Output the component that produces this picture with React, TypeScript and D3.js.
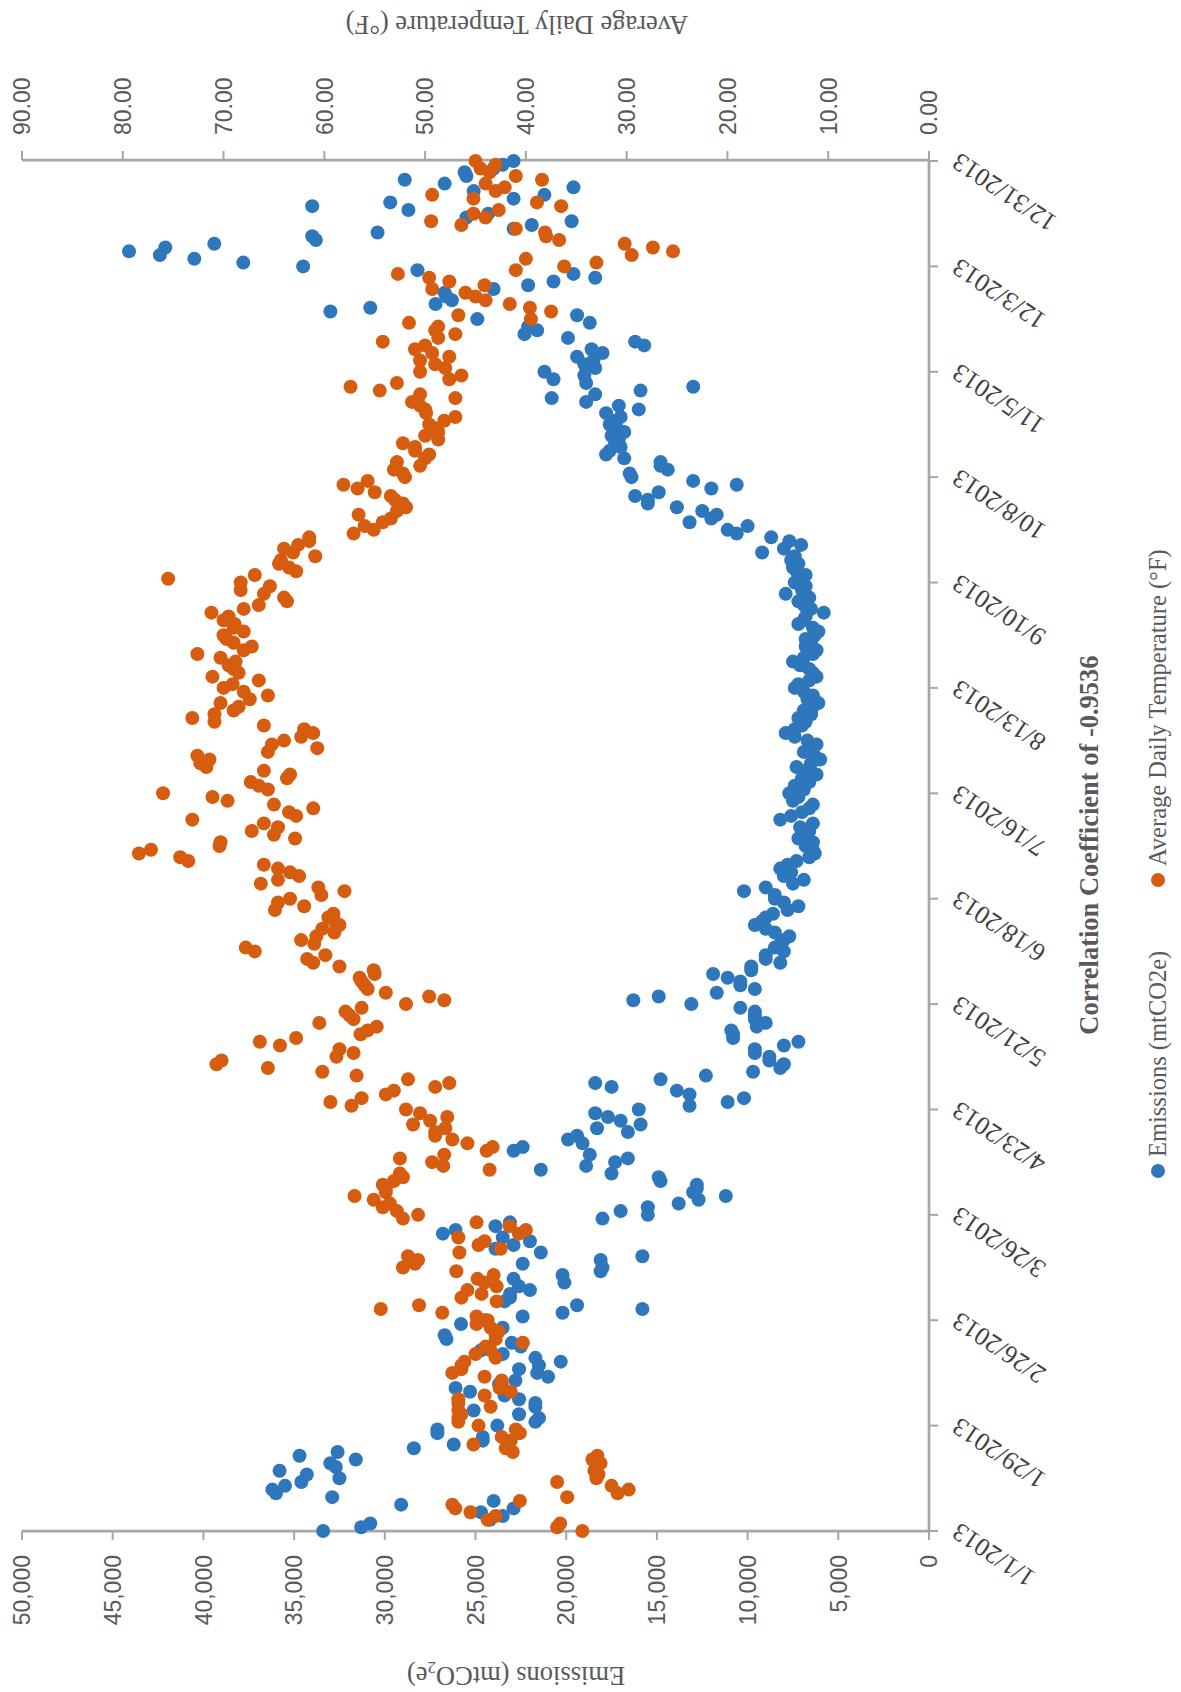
import React from "react";
import * as d3 from "d3";

// ---------- DATA (daily values, 2013) ----------
// Emissions, thousands of mtCO2e, one value per day, by month
const emJan = [33.4, 31.3, 30.8, 24.2, 23.5, 24.7, 22.9, 29.1, 24.0, 32.9, 36.0, 36.2, 35.5, 34.6, 32.5, 34.3, 35.8, 32.7, 33.0, 31.6, 34.7, 32.6, 28.4, 26.2, 24.6, 24.6, 27.1, 27.1, 23.8, 21.7, 21.5];
const emFeb = [22.6, 25.1, 21.7, 21.7, 22.6, 23.4, 25.3, 26.1, 23.7, 22.8, 21.0, 21.6, 22.6, 21.5, 20.3, 21.7, 23.5, 24.7, 22.5, 23.0, 26.6, 26.7, 23.9, 23.5, 25.8, 24.5, 22.4, 20.2];
const emMar = [15.8, 19.4, 23.4, 23.1, 23.1, 22.0, 22.6, 20.1, 22.9, 20.2, 18.1, 18.0, 22.4, 18.1, 15.8, 21.4, 23.9, 22.9, 22.0, 23.5, 26.8, 26.1, 23.9, 23.1, 18.0, 15.5, 17.0, 15.5, 13.8, 12.7, 11.2];
const emApr = [13.0, 12.8, 12.8, 14.8, 14.9, 17.5, 21.4, 18.9, 17.3, 16.6, 18.7, 22.9, 22.4, 19.1, 19.9, 19.4, 16.6, 18.3, 15.9, 17.0, 17.7, 18.4, 16.0, 13.2, 11.1, 10.2, 13.2, 13.9, 17.5, 18.4];
const emMay = [14.8, 12.3, 9.7, 8.2, 8.0, 8.8, 8.8, 9.6, 9.6, 8.0, 7.2, 10.8, 10.8, 10.9, 9.5, 9.0, 9.6, 9.6, 9.6, 10.4, 13.1, 16.3, 14.9, 11.7, 9.6, 10.4, 10.4, 11.1, 11.9, 9.8, 9.8];
const emJun = [8.2, 9.0, 9.0, 8.0, 8.5, 8.2, 8.0, 7.7, 8.5, 9.0, 9.6, 9.2, 9.0, 8.6, 7.8, 7.2, 8.0, 8.5, 8.5, 10.2, 9.0, 7.5, 6.9, 8.0, 7.6, 8.2, 7.8, 7.3, 6.6, 6.3];
const emJul = [6.4, 6.8, 6.4, 7.2, 7.0, 6.6, 7.1, 6.4, 8.2, 7.6, 7.0, 6.6, 6.4, 7.5, 7.2, 7.7, 6.9, 7.4, 6.6, 7.0, 6.2, 6.8, 7.3, 6.5, 6.0, 6.3, 6.9, 6.6, 6.2, 6.7, 7.4];
const emAug = [7.9, 7.4, 7.0, 6.8, 7.2, 6.5, 6.9, 6.4, 6.1, 6.7, 6.4, 6.9, 7.4, 7.2, 6.6, 6.2, 6.4, 6.6, 7.1, 7.5, 6.9, 6.4, 6.2, 6.8, 6.5, 6.8, 6.3, 6.1, 6.4, 7.2, 6.9];
const emSep = [6.8, 5.8, 6.5, 6.9, 7.2, 6.6, 7.9, 7.0, 6.8, 7.4, 7.0, 6.8, 7.3, 7.5, 7.2, 7.6, 7.4, 9.2, 8.0, 7.05, 7.7, 8.7, 10.6, 11.1, 10.0, 13.2, 12.0, 11.7, 12.5, 13.9];
const emOct = [15.5, 15.5, 16.2, 14.9, 12.0, 10.6, 13.0, 16.4, 16.5, 14.4, 14.8, 14.8, 16.8, 17.8, 17.6, 17.0, 17.3, 17.1, 17.5, 16.8, 17.2, 17.6, 17.5, 17.0, 17.8, 16.0, 17.1, 18.9, 20.8, 18.4, 15.9];
const emNov = [13.0, 18.9, 20.7, 19.0, 21.2, 18.4, 19.0, 18.5, 19.4, 18.0, 18.6, 15.7, 16.2, 19.9, 22.3, 21.6, 22.1, 18.7, 24.9, 19.4, 33.0, 30.8, 27.2, 26.3, 26.6, 26.7, 24.0, 22.1, 20.7, 18.4];
const emDec = [19.6, 28.2, 34.5, 37.8, 40.5, 42.4, 44.1, 42.1, 39.4, 33.8, 34.0, 30.4, 22.9, 21.9, 19.7, 25.5, 24.3, 28.7, 34.0, 29.7, 22.9, 21.2, 25.1, 19.6, 26.7, 28.9, 25.5, 25.6, 24.0, 23.5, 22.9];

// Average daily temperature (°F), one value per day, by month
const tpJan = [34.4, 36.9, 36.6, 43.8, 43.0, 45.5, 47.0, 47.3, 40.6, 35.9, 30.9, 29.8, 31.5, 36.9, 33.0, 32.8, 33.2, 33.0, 32.6, 33.4, 32.9, 41.3, 42.0, 45.2, 41.5, 42.4, 40.6, 41.0, 44.7, 46.7, 46.7];
const tpFeb = [46.4, 46.7, 43.5, 46.7, 46.7, 44.1, 41.5, 42.6, 42.4, 42.4, 44.1, 47.3, 46.4, 46.4, 46.1, 43.0, 45.0, 43.5, 44.0, 40.3, 43.0, 43.0, 42.7, 43.5, 44.9, 43.8, 44.9, 48.3];
const tpMar = [54.4, 50.6, 42.9, 46.4, 44.4, 45.8, 42.9, 44.1, 44.8, 43.2, 46.9, 52.2, 51.0, 50.7, 51.7, 46.6, 42.5, 44.7, 44.1, 46.7, 40.7, 40.0, 41.6, 44.9, 52.2, 50.7, 52.8, 54.2, 53.5, 55.1, 57.0];
const tpApr = [53.9, 53.9, 54.2, 53.1, 52.2, 52.5, 43.6, 48.2, 49.3, 52.5, 48.1, 43.9, 43.3, 45.8, 47.3, 49.0, 49.0, 48.0, 51.2, 49.5, 47.8, 50.5, 51.9, 57.3, 59.4, 56.3, 53.9, 53.1, 49.0, 47.6];
const tpMay = [51.7, 56.8, 60.2, 65.6, 70.7, 70.2, 58.8, 57.1, 58.5, 64.4, 66.4, 62.8, 56.4, 55.7, 54.8, 60.5, 57.1, 57.5, 57.9, 56.3, 51.9, 48.1, 49.6, 53.9, 55.7, 56.0, 56.3, 56.5, 55.0, 55.1, 58.5];
const tpJun = [61.1, 61.7, 59.9, 66.9, 67.8, 61.0, 62.3, 60.8, 59.0, 60.2, 58.5, 59.0, 59.6, 59.1, 64.9, 62.0, 64.6, 63.4, 60.3, 58.0, 60.6, 66.3, 64.6, 62.5, 63.4, 64.6, 66.0, 73.5, 74.3, 78.4];
const tpJul = [77.2, 70.4, 70.3, 62.9, 65.0, 67.2, 64.6, 66.0, 73.1, 62.8, 63.5, 61.1, 65.0, 69.6, 71.1, 76.0, 65.6, 66.5, 67.3, 63.7, 63.4, 66.0, 71.7, 72.3, 71.4, 72.6, 65.6, 60.7, 65.2, 64.0, 62.3];
const tpAug = [61.1, 62.0, 66.0, 70.9, 73.1, 70.9, 69.0, 68.5, 70.3, 67.4, 65.6, 68.0, 70.0, 69.1, 66.5, 71.1, 68.5, 69.0, 69.5, 68.8, 70.3, 72.6, 68.0, 67.2, 69.0, 69.7, 70.0, 68.0, 69.0, 68.9, 70.0];
const tpSep = [69.5, 71.2, 68.0, 66.5, 63.7, 64.0, 66.0, 68.3, 65.4, 68.3, 75.5, 66.9, 62.8, 63.5, 64.5, 64.3, 60.9, 63.1, 64.0, 62.6, 61.5, 61.5, 57.1, 55.1, 56.0, 54.2, 53.4, 56.6, 52.8, 51.9];
const tpOct = [52.2, 53.0, 53.4, 55.0, 56.7, 58.1, 55.7, 52.0, 52.2, 53.1, 50.5, 52.8, 50.0, 49.6, 51.0, 51.0, 52.2, 48.7, 50.0, 48.7, 49.0, 49.6, 48.1, 47.0, 49.9, 50.0, 50.5, 51.3, 47.0, 50.5, 54.5];
const tpNov = [57.4, 52.8, 47.6, 46.4, 50.5, 48.0, 49.0, 50.5, 47.6, 49.3, 51.0, 50.0, 54.2, 48.7, 47.0, 49.0, 48.7, 51.6, 39.5, 46.7, 37.5, 39.6, 41.6, 44.0, 45.0, 46.0, 49.3, 44.1, 47.6, 49.6];
const tpDec = [52.7, 41.0, 36.2, 33.0, 40.0, 29.5, 25.4, 27.4, 30.2, 36.7, 38.0, 38.1, 41.0, 46.4, 49.4, 44.0, 45.2, 42.7, 36.5, 38.9, 45.2, 49.3, 43.0, 42.1, 44.0, 38.4, 41.0, 43.6, 44.5, 43.0, 45.0];

const dateTickLabels = ["1/1/2013", "1/29/2013", "2/26/2013", "3/26/2013", "4/23/2013", "5/21/2013", "6/18/2013", "7/16/2013", "8/13/2013", "9/10/2013", "10/8/2013", "11/5/2013", "12/3/2013", "12/31/2013"];
const emissionTicks = [0, 5000, 10000, 15000, 20000, 25000, 30000, 35000, 40000, 45000, 50000];
const tempTicks = [0, 10, 20, 30, 40, 50, 60, 70, 80, 90];

const emissionsK = [...emJan, ...emFeb, ...emMar, ...emApr, ...emMay, ...emJun, ...emJul, ...emAug, ...emSep, ...emOct, ...emNov, ...emDec];
const temps = [...tpJan, ...tpFeb, ...tpMar, ...tpApr, ...tpMay, ...tpJun, ...tpJul, ...tpAug, ...tpSep, ...tpOct, ...tpNov, ...tpDec];

const BLUE = "#2f77bd";
const ORANGE = "#d65c0f";
const AXIS = "#a6a6a6";
const LABEL = "#595959";

const parseMDY = (s: string) => {
  const [m, d, y] = s.split("/").map(Number);
  return new Date(y, m - 1, d);
};

export default function App() {
  const start = new Date(2013, 0, 1);
  const end = new Date(2013, 11, 31);
  // Chart is displayed rotated: dates run bottom -> top, values run right -> left
  const yDate = d3.scaleTime().domain([start, end]).range([1531, 161]);
  const xEm = d3.scaleLinear().domain([0, 50000]).range([929, 22]);
  const xTp = d3.scaleLinear().domain([0, 90]).range([929, 22]);
  const fmt = d3.format(",");

  const dayDate = (i: number) => d3.timeDay.offset(start, i);
  const R = 7;

  return (
    <svg
      width={1181}
      height={1692}
      style={{ position: "absolute", left: 0, top: 0, background: "#fff" }}
    >
      {/* axes lines */}
      <line x1={22} x2={929} y1={1531} y2={1531} stroke={AXIS} strokeWidth={2.75} />
      <line x1={22} x2={929} y1={160} y2={160} stroke={AXIS} strokeWidth={2.75} />
      <line x1={929} x2={929} y1={160} y2={1531} stroke={AXIS} strokeWidth={2.75} />

      {/* emissions ticks + labels */}
      {emissionTicks.map((v) => (
        <g key={"e" + v}>
          <line x1={xEm(v)} x2={xEm(v)} y1={1531} y2={1540} stroke={AXIS} strokeWidth={2} />
          <text
            transform={`translate(${xEm(v)},1555) rotate(-90)`}
            dy="0.36em"
            textAnchor="end"
            fontFamily="Liberation Sans, Arial, sans-serif"
            fontSize={23}
            fill={LABEL}
          >
            {fmt(v)}
          </text>
        </g>
      ))}

      {/* temperature ticks + labels */}
      {tempTicks.map((v) => (
        <g key={"t" + v}>
          <line x1={xTp(v)} x2={xTp(v)} y1={160} y2={151} stroke={AXIS} strokeWidth={2} />
          <text
            transform={`translate(${xTp(v)},135) rotate(-90)`}
            dy="0.36em"
            textAnchor="start"
            fontFamily="Liberation Sans, Arial, sans-serif"
            fontSize={23}
            fill={LABEL}
          >
            {v.toFixed(2)}
          </text>
        </g>
      ))}

      {/* date ticks + labels */}
      {dateTickLabels.map((s) => {
        const y = yDate(parseMDY(s));
        return (
          <g key={s}>
            <line x1={929} x2={938} y1={y} y2={y} stroke={AXIS} strokeWidth={2} />
            <text
              transform={`translate(${929 + 31},${y - 9}) rotate(-146)`}
              textAnchor="end"
              fontFamily="Liberation Serif, Times New Roman, serif"
              fontSize={26}
              fill="#404040"
            >
              {s}
            </text>
          </g>
        );
      })}

      {/* data points */}
      {emissionsK.map((v, i) => (
        <circle key={"b" + i} cx={xEm(v * 1000)} cy={yDate(dayDate(i))} r={R} fill={BLUE} />
      ))}
      {temps.map((v, i) => (
        <circle key={"o" + i} cx={xTp(v)} cy={yDate(dayDate(i))} r={R} fill={ORANGE} />
      ))}

      {/* axis titles (upside-down) */}
      <text
        transform="translate(517,16) rotate(180)"
        textAnchor="middle"
        fontFamily="Liberation Serif, Times New Roman, serif"
        fontSize={26.5}
        fill={LABEL}
      >
        Average Daily Temperature (°F)
      </text>
      <text
        transform="translate(516,1667) rotate(180)"
        textAnchor="middle"
        fontFamily="Liberation Serif, Times New Roman, serif"
        fontSize={26.5}
        fill={LABEL}
      >
        <tspan>Emissions (mtCO</tspan>
        <tspan fontSize={17} dy={5}>2</tspan>
        <tspan dy={-5}>e)</tspan>
      </text>

      {/* chart title */}
      <text
        transform="translate(1098,845) rotate(-90)"
        textAnchor="middle"
        fontFamily="Liberation Serif, Times New Roman, serif"
        fontWeight="bold"
        fontSize={26.5}
        fill={LABEL}
      >
        Correlation Coefficient of -0.9536
      </text>

      {/* legend */}
      <circle cx={1158} cy={1171} r={R} fill={BLUE} />
      <text
        transform="translate(1166,1157) rotate(-90)"
        textAnchor="start"
        fontFamily="Liberation Serif, Times New Roman, serif"
        fontSize={24.5}
        fill={LABEL}
      >
        Emissions (mtCO2e)
      </text>
      <circle cx={1158} cy={880} r={R} fill={ORANGE} />
      <text
        transform="translate(1166,866) rotate(-90)"
        textAnchor="start"
        fontFamily="Liberation Serif, Times New Roman, serif"
        fontSize={24.5}
        fill={LABEL}
      >
        Average Daily Temperature (°F)
      </text>
    </svg>
  );
}
